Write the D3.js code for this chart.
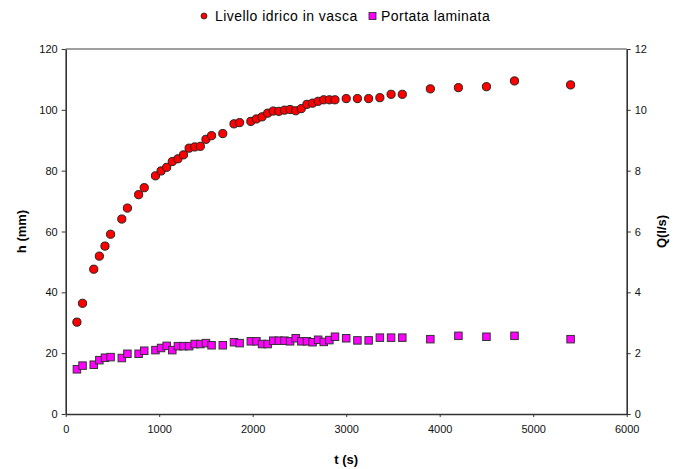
<!DOCTYPE html>
<html><head><meta charset="utf-8">
<script src="https://cdn.jsdelivr.net/npm/d3@7"></script>
<style>
body{margin:0;background:#fff;}
text{font-family:"Liberation Sans",Arial,sans-serif;}
</style></head>
<body><svg id="c" width="677" height="469"></svg>
<script>
const times = [120,180,300,360,420,480,600,660,780,840,960,1020,1080,1140,1200,1260,1320,1380,1440,1500,1560,1680,1800,1860,1980,2040,2100,2160,2220,2280,2340,2400,2460,2520,2580,2640,2700,2760,2820,2880,3000,3120,3240,3360,3480,3600,3900,4200,4500,4800,5400];
const livello = [30.2,36.4,47.6,51.9,55.2,59.1,64.1,67.7,72.1,74.4,78.3,79.9,81.1,83.0,83.9,85.2,87.4,87.8,88.0,90.3,91.5,92.2,95.4,95.8,96.2,97.0,97.7,98.9,99.6,99.5,99.9,100.1,99.7,100.4,101.8,102.2,102.8,103.3,103.3,103.3,103.7,103.7,103.7,104.0,105.1,105.1,106.9,107.3,107.6,109.5,108.2];
const portata = [1.47,1.59,1.62,1.77,1.85,1.87,1.84,1.98,1.98,2.08,2.10,2.17,2.24,2.10,2.23,2.23,2.23,2.30,2.30,2.33,2.26,2.26,2.36,2.33,2.39,2.39,2.30,2.30,2.41,2.41,2.41,2.39,2.49,2.39,2.39,2.36,2.44,2.37,2.43,2.54,2.49,2.42,2.42,2.51,2.51,2.51,2.46,2.57,2.54,2.57,2.46];
const xTicks = [0,1000,2000,3000,4000,5000,6000];
const hTicks = [0,20,40,60,80,100,120];
const qTicks = [0,2,4,6,8,10,12];
const seriesNames = ["Livello idrico in vasca","Portata laminata"];

const svg = d3.select("#c");
const L=65.7, R=626.7, T=49, B=414;
const x = d3.scaleLinear().domain([0,6000]).range([L,R]);
const yH = d3.scaleLinear().domain([0,120]).range([B,T]);
const yQ = d3.scaleLinear().domain([0,12]).range([B,T]);
const axisCol="#333";

// top border
svg.append("line").attr("x1",L).attr("x2",R).attr("y1",T).attr("y2",T).attr("stroke","#808080").attr("stroke-width",1.3);

function styleAxis(g){
  g.select(".domain").attr("stroke",axisCol).attr("stroke-width",1.6);
  g.selectAll(".tick line").attr("stroke",axisCol).attr("stroke-width",1);
  g.selectAll(".tick text").attr("font-size",11).attr("fill","#111");
}
const gx = svg.append("g").attr("transform",`translate(0,${B})`)
  .call(d3.axisBottom(x).tickValues(xTicks).tickSize(3).tickPadding(8).tickSizeOuter(0).tickFormat(d3.format("d")));
styleAxis(gx);
const gl = svg.append("g").attr("transform",`translate(${L},0)`)
  .call(d3.axisLeft(yH).tickValues(hTicks).tickSize(4).tickPadding(4).tickSizeOuter(0));
styleAxis(gl);
const gr = svg.append("g").attr("transform",`translate(${R},0)`)
  .call(d3.axisRight(yQ).tickValues(qTicks).tickSize(4).tickPadding(4).tickSizeOuter(0));
styleAxis(gr);

// axis titles
svg.append("text").attr("x",(L+R)/2).attr("y",464).attr("text-anchor","middle").attr("font-size",13).attr("font-weight","bold").text("t (s)");
svg.append("text").attr("transform",`translate(26,${(T+B)/2}) rotate(-90)`).attr("text-anchor","middle").attr("font-size",13).attr("font-weight","bold").text("h (mm)");
svg.append("text").attr("transform",`translate(666,${(T+B)/2}) rotate(-90)`).attr("text-anchor","middle").attr("font-size",13).attr("font-weight","bold").text("Q(l/s)");

// squares
const sq=7.5;
svg.append("g").selectAll("rect").data(times.map((t,i)=>[t,portata[i]])).join("rect")
  .attr("x",d=>x(d[0])-sq/2).attr("y",d=>yQ(d[1])-sq/2).attr("width",sq).attr("height",sq)
  .attr("fill","#ff00ff").attr("stroke","#333").attr("stroke-width",1);
// circles
svg.append("g").selectAll("circle").data(times.map((t,i)=>[t,livello[i]])).join("circle")
  .attr("cx",d=>x(d[0])).attr("cy",d=>yH(d[1])).attr("r",4.1)
  .attr("fill","#ff0000").attr("stroke","#222").attr("stroke-width",1);

// legend
const lg = svg.append("g");
lg.append("circle").attr("cx",204).attr("cy",16).attr("r",3).attr("fill","#ff0000").attr("stroke","#222").attr("stroke-width",0.8);
lg.append("text").attr("x",215).attr("y",21).attr("font-size",14).attr("letter-spacing",0.45).text(seriesNames[0]);
lg.append("rect").attr("x",369).attr("y",12.5).attr("width",7).attr("height",7).attr("fill","#ff00ff").attr("stroke","#222").attr("stroke-width",0.8);
lg.append("text").attr("x",381).attr("y",21).attr("font-size",14).attr("letter-spacing",0.45).text(seriesNames[1]);
</script></body></html>
